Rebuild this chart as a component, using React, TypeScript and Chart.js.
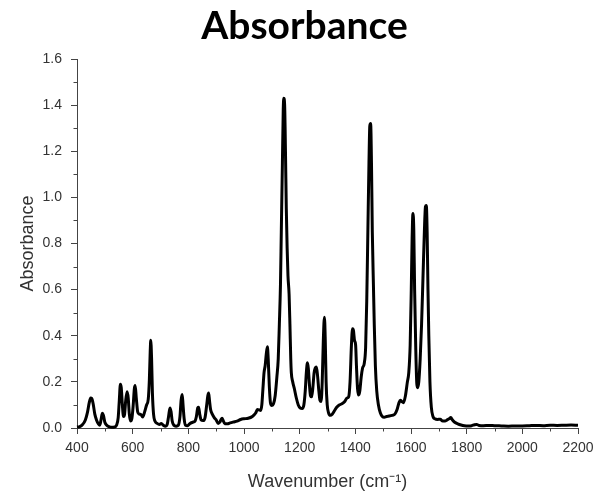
import React, { useEffect, useRef } from "react";
import { Chart, registerables } from "chart.js";

Chart.register(...registerables);

const chartTitle = "Absorbance";
const xAxisTitle = "Wavenumber (cm\u207B\u00B9)";
const yAxisTitle = "Absorbance";

const wavenumbers = [
  400, 410, 420, 430, 438, 444, 449, 453, 458, 464, 470, 477, 482, 487, 491, 495, 500, 507, 515, 525,
  535, 542, 548, 552, 556, 559, 563, 567, 571, 575, 580, 584, 588, 592, 597, 602, 606, 609, 613, 618,
  624, 630, 636, 643, 650, 656, 660, 663, 665, 668, 671, 675, 680, 688, 696, 703, 710, 718, 724, 729,
  734, 738, 742, 748, 756, 764, 770, 774, 778, 781, 785, 790, 797, 806, 816, 824, 829, 834, 837, 841,
  846, 853, 860, 866, 870, 873, 876, 880, 886, 893, 900, 907, 913, 918, 921, 925, 931, 940, 950, 962,
  975, 988, 1000, 1015, 1030, 1042, 1048, 1055, 1060, 1064, 1068, 1072, 1076, 1080, 1084, 1087, 1091, 1095, 1100, 1106,
  1112, 1118, 1123, 1127, 1131, 1134, 1138, 1141, 1143, 1146, 1149, 1152, 1155, 1158, 1162, 1165, 1168, 1170, 1175, 1181,
  1188, 1195, 1202, 1209, 1215, 1220, 1224, 1228, 1231, 1235, 1239, 1243, 1247, 1252, 1256, 1260, 1264, 1269, 1273, 1277,
  1281, 1285, 1289, 1292, 1295, 1299, 1304, 1310, 1317, 1325, 1333, 1342, 1352, 1362, 1370, 1376, 1381, 1386, 1390, 1393,
  1397, 1401, 1404, 1408, 1412, 1416, 1421, 1426, 1432, 1437, 1441, 1445, 1449, 1452, 1455, 1458, 1461, 1465, 1468, 1472,
  1477, 1483, 1490, 1497, 1504, 1512, 1522, 1532, 1542, 1550, 1557, 1562, 1567, 1573, 1580, 1587, 1592, 1597, 1601, 1604,
  1607, 1610, 1613, 1617, 1621, 1624, 1628, 1633, 1638, 1643, 1648, 1652, 1655, 1658, 1661, 1664, 1668, 1673, 1679, 1686,
  1695, 1705, 1714, 1722, 1730, 1737, 1743, 1749, 1757, 1768, 1780, 1792, 1805, 1818, 1828, 1836, 1845, 1860, 1880, 1900,
  1925, 1950, 1975, 2000, 2025, 2050, 2075, 2100, 2125, 2150, 2175, 2200,
];

const absorbance = [
  0.004, 0.006, 0.015, 0.035, 0.07, 0.11, 0.13, 0.128, 0.105, 0.06, 0.035, 0.018, 0.012, 0.04, 0.064, 0.055, 0.025, 0.012, 0.006, 0.003,
  0.004, 0.012, 0.045, 0.12, 0.19, 0.175, 0.1, 0.05, 0.06, 0.12, 0.157, 0.13, 0.06, 0.03, 0.04, 0.1, 0.17, 0.184, 0.13, 0.07,
  0.06, 0.058, 0.048, 0.07, 0.1, 0.125, 0.21, 0.33, 0.38, 0.3, 0.15, 0.06, 0.03, 0.02, 0.015, 0.02, 0.012, 0.008, 0.015, 0.05,
  0.087, 0.07, 0.03, 0.012, 0.008, 0.012, 0.05, 0.12, 0.145, 0.1, 0.04, 0.012, 0.01, 0.02, 0.025, 0.03, 0.05, 0.088, 0.09, 0.06,
  0.035, 0.032, 0.045, 0.1, 0.14, 0.152, 0.12, 0.08, 0.06, 0.045, 0.035, 0.02, 0.025, 0.038, 0.042, 0.033, 0.018, 0.018, 0.022, 0.026,
  0.03, 0.037, 0.04, 0.042, 0.05, 0.065, 0.08, 0.078, 0.076, 0.1, 0.17, 0.24, 0.27, 0.32, 0.352, 0.3, 0.18, 0.11, 0.098, 0.105,
  0.14, 0.22, 0.3, 0.45, 0.62, 0.85, 1.15, 1.38, 1.43, 1.4, 1.2, 0.95, 0.78, 0.66, 0.58, 0.45, 0.3, 0.24, 0.2, 0.17,
  0.13, 0.1, 0.087, 0.085, 0.1, 0.16, 0.24, 0.283, 0.26, 0.19, 0.14, 0.135, 0.17, 0.24, 0.26, 0.265, 0.23, 0.16, 0.12, 0.115,
  0.2, 0.38, 0.48, 0.38, 0.2, 0.1, 0.065, 0.055, 0.06, 0.075, 0.09, 0.1, 0.105, 0.115, 0.13, 0.135, 0.2, 0.36, 0.43, 0.425,
  0.38, 0.36, 0.27, 0.17, 0.143, 0.16, 0.22, 0.26, 0.28, 0.35, 0.55, 0.85, 1.15, 1.31, 1.32, 1.15, 0.85, 0.62, 0.45, 0.27,
  0.16, 0.1, 0.065, 0.05, 0.047, 0.05, 0.052, 0.055, 0.06, 0.08, 0.11, 0.12, 0.115, 0.11, 0.14, 0.2, 0.24, 0.36, 0.6, 0.82,
  0.93, 0.86, 0.6, 0.35, 0.19, 0.175, 0.2, 0.3, 0.45, 0.65, 0.85, 0.96, 0.965, 0.85, 0.6, 0.4, 0.2, 0.09, 0.05, 0.04,
  0.037, 0.038, 0.03, 0.03, 0.035, 0.04, 0.045, 0.035, 0.025, 0.018, 0.013, 0.01, 0.009, 0.01, 0.014, 0.015, 0.011, 0.01, 0.011, 0.01,
  0.009, 0.008, 0.009, 0.009, 0.01, 0.011, 0.01, 0.012, 0.011, 0.012, 0.013, 0.012,
];

const xMin = 400;
const xMax = 2200;
const xMajorStep = 200;
const xMinorValues = [500, 700, 900, 1100, 1300, 1500, 1700, 1900, 2100];
const yMin = 0;
const yMax = 1.6;
const yMajorStep = 0.2;
const yMinorValues = [0.1, 0.3, 0.5, 0.7, 0.9, 1.1, 1.3, 1.5];

const axisColor = "#444";
const textColor = "#333";
const tickFont = "'Liberation Sans', Arial, sans-serif";

const minorTicksPlugin = {
  id: "minorTicks",
  afterDraw(chart: any) {
    const { ctx, scales } = chart;
    const xs = scales.x;
    const ys = scales.y;
    ctx.save();
    ctx.strokeStyle = axisColor;
    ctx.lineWidth = 1;
    ctx.beginPath();
    xMinorValues.forEach((v) => {
      const px = Math.round(xs.getPixelForValue(v)) + 0.5;
      ctx.moveTo(px, ys.bottom);
      ctx.lineTo(px, ys.bottom + 3.5);
    });
    yMinorValues.forEach((v) => {
      const py = Math.round(ys.getPixelForValue(v)) + 0.5;
      ctx.moveTo(xs.left, py);
      ctx.lineTo(xs.left - 3.5, py);
    });
    ctx.stroke();
    ctx.restore();
  },
};

const titlePlugin = {
  id: "mainTitle",
  afterDraw(chart: any) {
    const { ctx } = chart;
    ctx.save();
    ctx.font = "bold 39px Lato, 'Open Sans', sans-serif";
    ctx.fillStyle = "#000";
    ctx.textAlign = "center";
    ctx.textBaseline = "alphabetic";
    ctx.fillText(chartTitle, 304.5, 39);
    ctx.restore();
  },
};

export default function App() {
  const canvasRef = useRef<HTMLCanvasElement | null>(null);

  useEffect(() => {
    if (!canvasRef.current) return;
    const points = wavenumbers.map((w, i) => ({ x: w, y: absorbance[i] }));
    const chart = new Chart(canvasRef.current, {
      type: "line",
      data: {
        datasets: [
          {
            data: points,
            borderColor: "#000",
            borderWidth: 3,
            pointRadius: 0,
            fill: false,
            cubicInterpolationMode: "monotone",
            clip: false as any,
          },
        ],
      },
      options: {
        animation: false,
        responsive: false,
        maintainAspectRatio: false,
        layout: { padding: { top: 59, right: 18, bottom: 0, left: 0 } },
        plugins: {
          legend: { display: false },
          title: { display: false },
          tooltip: { enabled: false },
        },
        scales: {
          x: {
            type: "linear",
            min: xMin,
            max: xMax,
            afterFit: (s: any) => {
              s.height = 63;
              s.paddingRight = 18;
              s.paddingLeft = 0;
            },
            ticks: {
              stepSize: xMajorStep,
              padding: 6,
              color: textColor,
              font: { family: tickFont, size: 14 },
              maxRotation: 0,
              callback: (v: any) => String(v),
            },
            grid: {
              drawOnChartArea: false,
              drawTicks: true,
              tickLength: 6,
              tickColor: axisColor,
            },
            border: { display: true, color: axisColor, width: 1 },
            title: {
              display: true,
              text: xAxisTitle,
              color: textColor,
              font: { family: tickFont, size: 18, lineHeight: 1 },
              padding: 0,
            },
          },
          y: {
            type: "linear",
            min: yMin,
            max: yMax,
            afterFit: (s: any) => {
              s.width = 77;
            },
            ticks: {
              stepSize: yMajorStep,
              padding: 9,
              color: textColor,
              font: { family: tickFont, size: 14 },
              callback: (v: any) => Number(v).toFixed(1),
            },
            grid: {
              drawOnChartArea: false,
              drawTicks: true,
              tickLength: 6,
              tickColor: axisColor,
            },
            border: { display: true, color: axisColor, width: 1 },
            title: {
              display: true,
              text: yAxisTitle,
              color: textColor,
              font: { family: tickFont, size: 18 },
              padding: { top: 17.5, bottom: 0 },
            },
          },
        },
      },
      plugins: [minorTicksPlugin, titlePlugin],
    });
    return () => chart.destroy();
  }, []);

  return (
    <div style={{ position: "fixed", left: 0, top: 0, width: 596, height: 491, background: "#fff" }}>
      <canvas ref={canvasRef} width={596} height={491} style={{ display: "block" }} />
    </div>
  );
}
